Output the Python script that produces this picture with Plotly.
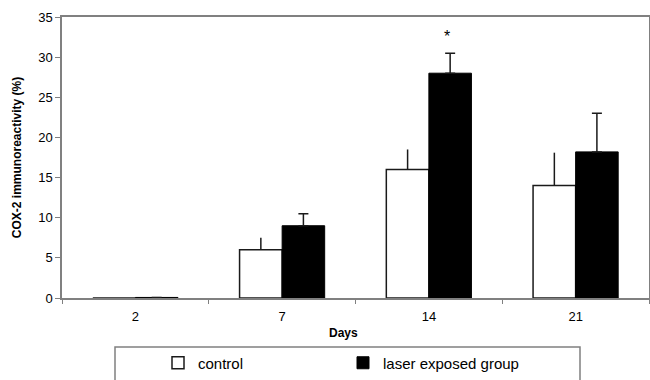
import plotly.graph_objects as go

days = ["2", "7", "14", "21"]
control = [0, 6, 16, 14]
control_err = [0, 1.5, 2.5, 4.1]
laser = [0.07, 9, 28, 18.2]
laser_err = [0, 1.5, 2.5, 4.8]
y_ticks = [0, 5, 10, 15, 20, 25, 30, 35]

FONT = "Liberation Sans, Arial, sans-serif"
GREY = "#808080"

fig = go.Figure()
fig.add_trace(go.Bar(
    x=days, y=control, name="control",
    marker=dict(color="white", line=dict(color="#1a1a1a", width=1.5)),
    error_y=dict(type="data", array=control_err, symmetric=False,
                 arrayminus=[0] * len(days), color="#1a1a1a", thickness=1.5, width=0),
))
fig.add_trace(go.Bar(
    x=days, y=laser, name="laser exposed group",
    marker=dict(color="black", line=dict(color="black", width=1)),
    error_y=dict(type="data", array=laser_err, symmetric=False,
                 arrayminus=[0] * len(days), color="#1a1a1a", thickness=1.5, width=5),
))

# asterisk over the day-14 laser bar (category index 2)
fig.add_annotation(x=days.index("14"), y=32.6, xref="x", yref="y", text="*", showarrow=False,
                   xshift=18, font=dict(family=FONT, size=16, color="black"))
fig.add_annotation(x=(343 - 62) / 587, y=(298 - 333) / 281, xref="paper", yref="paper",
                   xanchor="center", yanchor="middle",
                   text="Days", showarrow=False,
                   font=dict(family=FONT, size=12, color="black", weight="bold"))
fig.add_shape(type="rect", xref="paper", yref="paper",
              x0=(115 - 62) / 587, x1=(580 - 62) / 587,
              y0=(298 - 347) / 281, y1=(298 - 390) / 281,
              line=dict(color=GREY, width=1.5), fillcolor="rgba(0,0,0,0)")

fig.update_layout(
    width=650, height=380,
    margin=dict(l=62, r=1, t=17, b=82, autoexpand=False),
    paper_bgcolor="white", plot_bgcolor="white",
    barmode="group", bargap=0.42, bargroupgap=0,
    font=dict(family=FONT, size=13, color="black"),
    legend=dict(orientation="h", xref="container", yref="container",
                x=158 / 650, y=1 - 363 / 380, xanchor="left", yanchor="middle",
                entrywidth=140, entrywidthmode="pixels", itemwidth=30,
                font=dict(family=FONT, size=15, color="black"),
                bgcolor="rgba(0,0,0,0)"),
    xaxis=dict(type="category", showline=True, linecolor=GREY, linewidth=1.5,
               mirror=True, ticks="outside", tickson="boundaries", ticklen=4,
               tickcolor=GREY, showgrid=False, tickfont=dict(size=13), automargin=False,
               ticklabelstandoff=6),
    yaxis=dict(range=[0, 35], tickvals=y_ticks, showline=True, linecolor=GREY,
               linewidth=1.5, mirror=True, ticks="outside", ticklen=5, tickcolor=GREY,
               showgrid=False, zeroline=False, tickfont=dict(size=13), automargin=False,
               title=dict(text="COX-2 immunoreactivity (%)", standoff=14,
                          font=dict(family=FONT, size=12, color="black", weight="bold"))),
)

fig.write_html(
    "out.html",
    config={"displayModeBar": False},
    post_script="document.body.style.margin='0';document.body.style.overflow='hidden';",
)
